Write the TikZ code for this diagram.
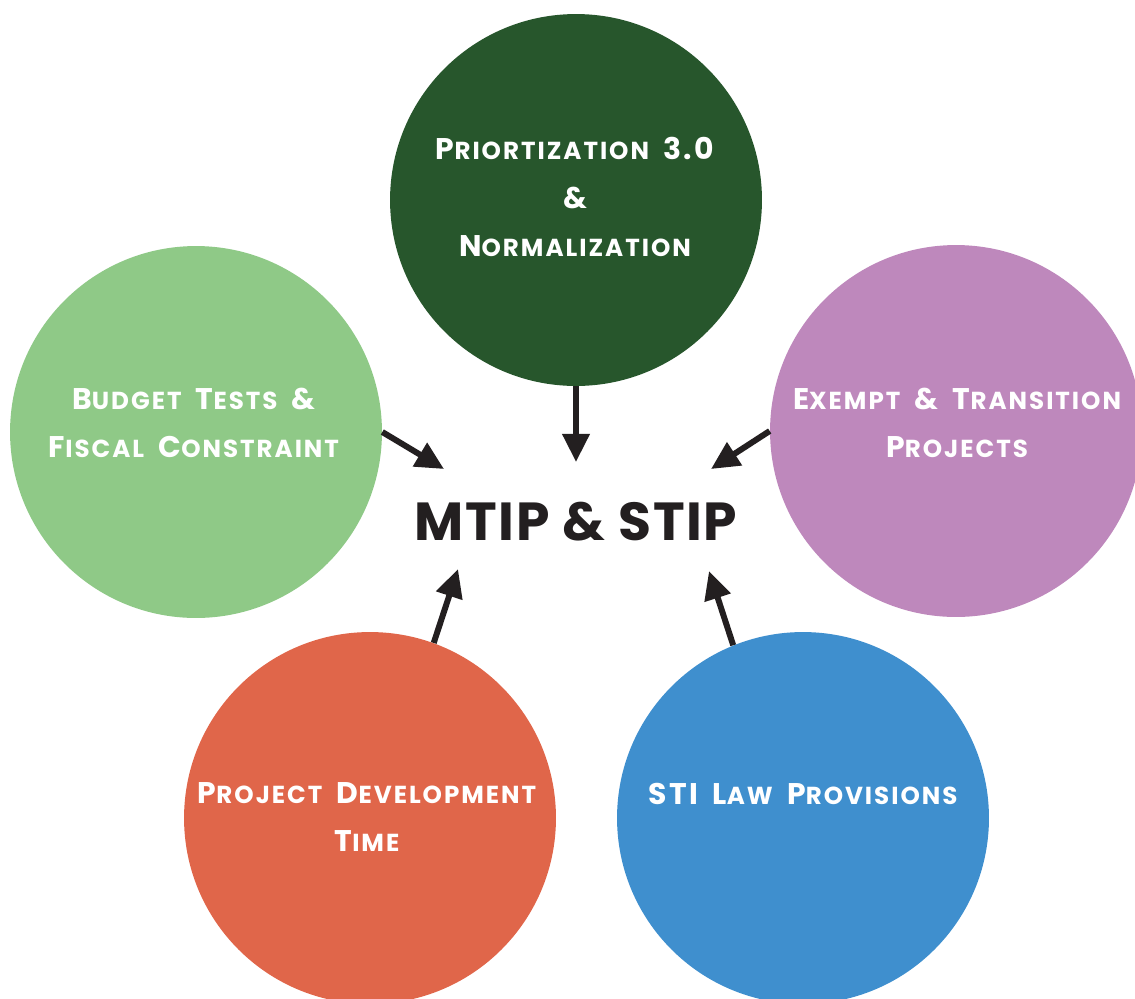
\documentclass[tikz,border=0pt]{standalone}
\usepackage{fontspec}
\setmainfont{Poppins}
\newfontfamily\capsfont[LetterSpace=8,WordSpace=2]{Poppins}
\newfontfamily\titlefont[LetterSpace=3]{Poppins}
\usetikzlibrary{arrows.meta}

\definecolor{priogreen}{HTML}{27562C}
\definecolor{budgetgreen}{HTML}{8FC987}
\definecolor{exemptpurple}{HTML}{BE88BC}
\definecolor{devorange}{HTML}{E0664A}
\definecolor{stiblue}{HTML}{3F8FCE}
\definecolor{arrowblack}{HTML}{231F20}

% fake small caps: big initial, small capitals for the rest
\newcommand\Cap[1]{{\fontsize{17}{17}\selectfont #1}}

\tikzset{
    bubble/.style={circle,minimum size=7.44cm,inner sep=0pt},
    caps/.style={text=white,font=\capsfont\bfseries\fontsize{14}{27.5}\selectfont,align=center},
    feed/.style={draw=arrowblack,line width=3.4pt,-{Triangle[length=16pt,width=15pt]}}
}

\begin{document}
\begin{tikzpicture}[x=0.02cm,y=-0.02cm]
        \useasboundingbox (0,0) rectangle (1135,998);

        \node[bubble,fill=priogreen] (prio) at (576,200) {};
        \node[bubble,fill=budgetgreen] (budget) at (196,432) {};
        \node[bubble,fill=exemptpurple] (exempt) at (956,431) {};
        \node[bubble,fill=devorange] (dev) at (370,818) {};
        \node[bubble,fill=stiblue] (sti) at (803,818) {};

        \node[caps] (prio-text) at (575,197) {\Cap{P}RIORTIZATION \Cap{3.0}\\\Cap{\&}\\\Cap{N}ORMALIZATION};
        \node[caps] (budget-text) at (194,423) {\Cap{B}UDGET \Cap{T}ESTS \Cap{\&}\\\Cap{F}ISCAL \Cap{C}ONSTRAINT};
        \node[caps] (exempt-text) at (957,423) {\Cap{E}XEMPT \Cap{\&} \Cap{T}RANSITION\\\Cap{P}ROJECTS};
        \node[caps] (dev-text) at (367,817) {\Cap{P}ROJECT \Cap{D}EVELOPMENT\\\Cap{T}IME};
        \node[caps] (sti-text) at (803,794) {\Cap{STI} \Cap{L}AW \Cap{P}ROVISIONS};

        \node[text=arrowblack,font=\titlefont\bfseries\fontsize{30.5}{30.5}\selectfont] (mtip) at (576,522) {MTIP \& STIP};

        % arrow tips
        \coordinate (tipN) at (576,462);
        \coordinate (tipW) at (444,469);
        \coordinate (tipE) at (711,469);
        \coordinate (tipSW) at (458,569);
        \coordinate (tipSE) at (709,571);

        \foreach \from / \to in {prio.south/tipN,budget.east/tipW,exempt.west/tipE,dev.70/tipSW,sti.112/tipSE}
            \draw[feed] (\from) -- (\to);
    \end{tikzpicture}
\end{document}
